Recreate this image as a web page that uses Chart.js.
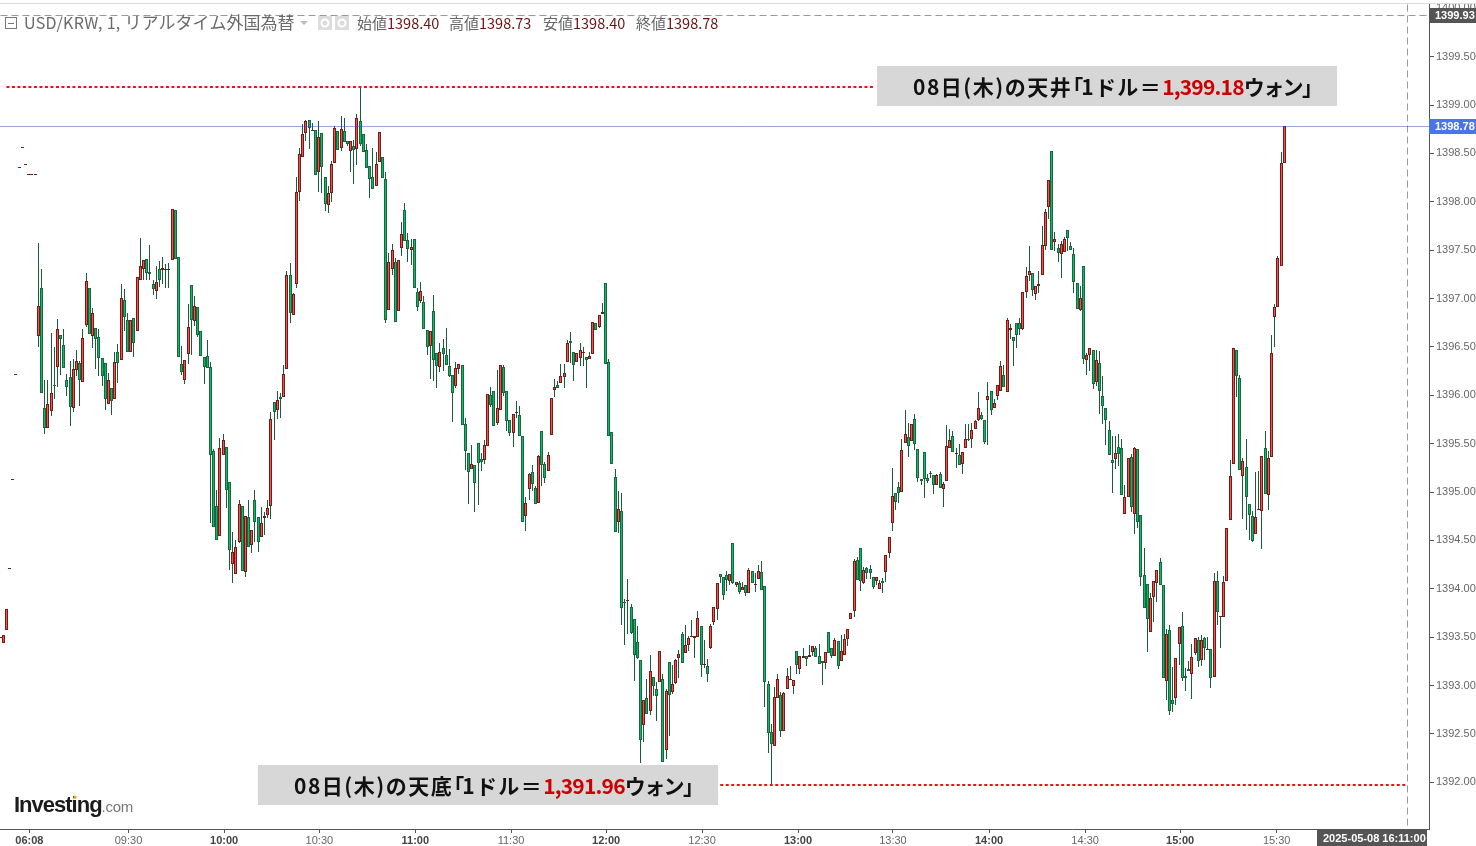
<!DOCTYPE html>
<html>
<head>
<meta charset="utf-8">
<title>USD/KRW</title>
<script src="https://cdn.jsdelivr.net/npm/chart.js@4"></script>
<style>
  html, body { margin: 0; padding: 0; background: #fff; overflow: hidden; }
  canvas { display: block; }
</style>
</head>
<body>
<canvas id="chart" width="1476" height="846"></canvas>
<script>
// ================================
// DATA (1 minute candles)
// ================================
const opens = [
  1393.50,1393.44,1393.57,1394.21,1395.13,1396.22,1398.36,1398.57,1398.39,1398.29,
  1398.29,1398.29,1396.61,1397.11,1395.87,1395.66,1395.84,1396.11,1396.29,1396.62,
  1396.52,1396.16,1396.19,1395.87,1396.26,1396.33,1396.14,1396.73,1397.11,1396.61,
  1396.70,1396.60,1396.38,1396.33,1395.91,1396.07,1395.96,1396.45,1396.36,1396.98,
  1396.78,1396.45,1396.80,1396.66,1397.19,1397.30,1397.41,1397.27,1397.15,1397.08,
  1397.30,1397.29,1397.29,1397.30,1397.40,1397.91,1397.43,1396.32,1396.16,1396.43,
  1397.14,1396.77,1396.91,1396.66,1396.40,1396.41,1396.29,1395.42,1394.86,1394.55,
  1395.38,1395.47,1395.10,1394.26,1394.15,1394.48,1394.86,1394.17,1394.74,1394.45,
  1394.92,1394.74,1394.54,1394.73,1394.76,1394.86,1395.93,1395.85,1395.98,1395.98,
  1396.27,1397.24,1396.83,1397.15,1398.10,1398.46,1398.71,1398.84,1398.73,1398.74,
  1398.31,1398.71,1398.26,1397.97,1398.09,1398.40,1398.73,1398.56,1398.73,1398.63,
  1398.52,1398.58,1398.55,1398.83,1398.70,1398.54,1398.37,1398.26,1398.16,1398.41,
  1398.46,1398.24,1396.88,1397.30,1397.38,1396.87,1397.52,1397.91,1397.60,1397.50,
  1397.61,1397.07,1396.97,1396.96,1396.67,1396.51,1396.87,1396.44,1396.29,1396.49,
  1396.42,1396.30,1396.21,1396.10,1396.27,1396.31,1395.70,1395.40,1395.24,1395.28,
  1395.51,1395.34,1395.33,1395.48,1396.00,1396.04,1395.71,1395.85,1396.29,1396.04,
  1395.74,1395.61,1395.82,1395.80,1395.58,1394.75,1395.03,1395.21,1395.04,1394.89,
  1395.63,1395.29,1395.22,1395.59,1396.05,1396.11,1396.13,1396.19,1396.34,1396.56,
  1396.45,1396.34,1396.38,1396.44,1396.40,1396.37,1396.43,1396.75,1396.71,1396.84,
  1397.16,1396.34,1395.62,1395.16,1394.69,1394.80,1393.86,1393.88,1393.81,1393.69,
  1393.45,1393.26,1392.59,1392.87,1392.74,1393.09,1392.96,1393.04,1393.07,1392.33,
  1393.24,1392.93,1393.03,1393.28,1393.53,1393.34,1393.42,1393.50,1393.49,1393.50,
  1393.62,1393.22,1393.20,1393.39,1393.66,1393.79,1394.15,1394.12,1394.14,1394.08,
  1394.47,1394.04,1394.06,1393.99,1394.04,1393.96,1394.18,1394.05,1394.10,1394.17,
  1394.03,1393.02,1392.52,1392.38,1392.87,1392.90,1392.53,1392.96,1393.07,1393.00,
  1393.36,1393.17,1393.28,1393.30,1393.29,1393.35,1393.39,1393.30,1393.25,1393.23,
  1393.55,1393.39,1393.30,1393.46,1393.25,1393.32,1393.48,1393.69,1393.77,1394.30,
  1394.42,1394.06,1394.21,1394.20,1394.12,1394.08,1394.00,1394.08,1394.17,1394.37,
  1394.68,1394.99,1395.05,1395.00,1395.51,1395.57,1395.53,1395.75,1395.44,1395.13,
  1395.41,1395.14,1395.20,1395.18,1395.07,1395.19,1395.03,1395.11,1395.46,1395.58,
  1395.40,1395.38,1395.29,1395.45,1395.55,1395.55,1395.65,1395.74,1395.80,1395.74,
  1395.95,1396.04,1395.87,1395.99,1396.04,1396.21,1396.03,1396.67,1396.60,1396.75,
  1396.75,1396.68,1397.07,1397.24,1397.26,1397.05,1397.13,1397.24,1397.54,1397.95,
  1398.52,1397.58,1397.52,1397.46,1397.48,1397.71,1397.54,1397.46,1397.16,1396.88,
  1397.34,1396.36,1396.42,1396.47,1396.14,1396.33,1395.99,1395.87,1395.64,1395.33,
  1395.34,1395.47,1395.46,1394.77,1394.95,1395.36,1394.77,1395.44,1394.76,1394.14,
  1394.05,1393.55,1393.91,1394.06,1394.28,1394.04,1393.05,1393.57,1392.85,1392.87,
  1393.43,1393.62,1393.10,1393.17,1393.12,1393.34,1393.47,1393.26,1393.49,1393.38,
  1393.38,1393.09,1394.08,1393.71,1393.71,1394.08,1394.71,1395.29,1396.47,1396.18,
  1395.17,1395.26,1394.88,1394.75,1394.57,1394.81,1394.80,1395.46,1394.97,1395.36,
  1396.81,1396.91,1397.34,1398.40
];
const highs = [
  1393.50,1393.52,1393.79,1394.21,1395.13,1396.22,1398.36,1398.57,1398.39,1398.29,
  1398.29,1398.29,1397.57,1397.31,1396.16,1396.16,1396.64,1396.50,1396.79,1396.62,
  1396.69,1396.22,1396.35,1396.37,1396.47,1396.35,1396.68,1397.26,1397.11,1396.90,
  1396.70,1396.68,1396.38,1396.33,1396.23,1396.07,1396.45,1396.53,1397.15,1397.10,
  1396.85,1396.78,1396.80,1397.22,1397.63,1397.40,1397.41,1397.55,1397.19,1397.34,
  1397.39,1397.43,1397.36,1397.37,1397.93,1397.91,1397.43,1396.51,1396.36,1396.94,
  1397.14,1397.03,1396.91,1396.66,1396.40,1396.57,1396.34,1395.44,1395.02,1395.56,
  1395.60,1395.47,1395.10,1394.59,1394.50,1394.92,1394.86,1394.75,1394.92,1394.61,
  1395.02,1394.74,1394.84,1394.79,1394.92,1395.83,1395.93,1396.04,1396.02,1396.31,
  1397.28,1397.37,1397.06,1398.26,1398.56,1398.80,1398.85,1398.85,1398.81,1398.74,
  1398.83,1398.71,1398.26,1398.16,1398.42,1398.78,1398.73,1398.89,1398.87,1398.63,
  1398.63,1398.64,1398.91,1399.20,1398.70,1398.60,1398.37,1398.56,1398.51,1398.72,
  1398.46,1398.31,1397.47,1397.56,1397.42,1397.40,1397.79,1397.99,1397.68,1397.62,
  1397.61,1397.11,1397.17,1397.03,1396.67,1396.66,1397.04,1396.44,1396.54,1396.58,
  1396.70,1396.48,1396.21,1396.34,1396.32,1396.31,1395.77,1395.40,1395.49,1395.28,
  1395.51,1395.40,1395.54,1396.01,1396.09,1396.04,1396.26,1396.31,1396.31,1396.04,
  1395.74,1395.81,1395.94,1395.89,1395.58,1394.95,1395.20,1395.28,1395.06,1395.38,
  1395.63,1395.31,1395.41,1395.97,1396.17,1396.15,1396.32,1396.32,1396.57,1396.65,
  1396.45,1396.44,1396.54,1396.50,1396.40,1396.45,1396.76,1396.75,1396.83,1396.95,
  1397.16,1396.37,1395.62,1395.24,1395.01,1394.99,1393.89,1394.10,1393.84,1393.69,
  1393.62,1393.26,1392.85,1393.07,1393.32,1393.09,1393.04,1393.36,1393.12,1392.96,
  1393.24,1393.21,1393.27,1393.37,1393.55,1393.63,1393.51,1393.68,1393.51,1393.77,
  1393.62,1393.47,1393.27,1393.64,1393.81,1394.06,1394.15,1394.12,1394.18,1394.15,
  1394.47,1394.07,1394.08,1394.07,1394.04,1394.21,1394.18,1394.16,1394.25,1394.29,
  1394.03,1393.05,1392.60,1392.98,1393.12,1392.93,1392.93,1393.18,1393.20,1393.06,
  1393.36,1393.30,1393.39,1393.30,1393.42,1393.41,1393.41,1393.43,1393.25,1393.35,
  1393.55,1393.39,1393.49,1393.46,1393.52,1393.53,1393.58,1393.75,1394.31,1394.33,
  1394.42,1394.23,1394.23,1394.25,1394.12,1394.12,1394.09,1394.11,1394.35,1394.54,
  1395.25,1394.99,1395.10,1395.55,1395.85,1395.71,1395.70,1395.81,1395.44,1395.13,
  1395.41,1395.19,1395.22,1395.18,1395.19,1395.21,1395.10,1395.69,1395.65,1395.63,
  1395.45,1395.50,1395.41,1395.70,1395.70,1395.71,1395.74,1396.03,1395.83,1395.74,
  1396.14,1396.04,1395.96,1396.11,1396.35,1396.31,1396.80,1396.74,1396.60,1396.75,
  1396.80,1397.07,1397.33,1397.54,1397.26,1397.13,1397.28,1397.75,1397.93,1398.23,
  1398.52,1397.69,1397.56,1397.59,1397.64,1397.71,1397.58,1397.52,1397.16,1397.13,
  1397.34,1396.44,1396.49,1396.47,1396.47,1396.46,1396.20,1395.87,1395.73,1395.58,
  1395.58,1395.60,1395.55,1395.07,1395.35,1395.39,1395.47,1395.44,1394.76,1394.42,
  1394.05,1393.96,1394.08,1394.19,1394.32,1394.04,1393.58,1393.63,1393.19,1393.28,
  1393.60,1393.76,1393.18,1393.25,1393.43,1393.49,1393.50,1393.52,1393.50,1393.50,
  1393.38,1394.16,1394.18,1393.72,1394.13,1394.63,1395.33,1396.49,1396.47,1396.21,
  1395.35,1395.55,1394.88,1394.80,1395.21,1395.22,1395.37,1395.63,1395.42,1396.62,
  1396.94,1397.44,1398.51,1398.78
];
const lows = [
  1393.50,1393.44,1393.57,1394.21,1395.13,1396.22,1398.36,1398.57,1398.39,1398.29,
  1398.29,1398.29,1396.50,1396.02,1395.60,1395.66,1395.79,1395.96,1396.09,1396.21,
  1396.28,1395.99,1395.68,1395.83,1396.20,1395.89,1396.14,1396.71,1396.63,1396.49,
  1396.27,1396.20,1396.10,1395.85,1395.91,1395.80,1395.96,1396.13,1396.36,1396.66,
  1396.45,1396.45,1396.40,1396.66,1397.19,1397.19,1397.19,1397.19,1397.04,1397.00,
  1397.12,1397.15,1397.11,1397.11,1397.40,1397.41,1396.40,1396.21,1396.12,1396.32,
  1396.42,1396.72,1396.60,1396.41,1396.12,1396.28,1394.68,1394.64,1394.50,1394.55,
  1395.38,1394.83,1394.19,1394.06,1394.15,1394.47,1394.18,1394.12,1394.43,1394.37,
  1394.48,1394.38,1394.54,1394.56,1394.73,1394.72,1395.54,1395.75,1395.77,1395.98,
  1396.27,1396.75,1396.83,1397.11,1398.01,1398.46,1398.63,1398.55,1398.73,1398.28,
  1398.10,1398.09,1397.90,1397.88,1398.00,1398.40,1398.53,1398.52,1398.62,1398.58,
  1398.31,1398.18,1398.38,1398.58,1398.51,1398.35,1398.04,1398.13,1398.16,1398.41,
  1398.25,1396.75,1396.88,1397.24,1396.76,1396.87,1397.44,1397.59,1397.38,1397.35,
  1397.11,1396.87,1396.95,1396.69,1396.42,1396.17,1396.15,1396.08,1396.24,1396.25,
  1396.31,1396.19,1395.72,1396.07,1396.22,1395.69,1395.23,1394.88,1395.24,1394.79,
  1394.87,1395.22,1395.29,1395.48,1395.88,1395.68,1395.69,1395.85,1395.99,1395.63,
  1395.58,1395.47,1395.77,1395.58,1394.69,1394.60,1394.92,1395.01,1394.88,1394.89,
  1395.06,1395.09,1395.22,1395.59,1395.98,1396.07,1396.13,1396.07,1396.34,1396.33,
  1396.15,1396.34,1396.30,1396.30,1396.08,1396.37,1396.43,1396.67,1396.70,1396.84,
  1396.32,1395.58,1395.29,1394.59,1394.58,1393.63,1393.42,1393.53,1393.53,1393.05,
  1393.27,1392.20,1392.42,1392.71,1392.70,1392.89,1392.63,1393.04,1392.21,1392.24,
  1392.48,1392.91,1393.02,1393.08,1393.23,1393.34,1393.36,1393.50,1393.28,1393.50,
  1393.09,1393.18,1393.04,1393.38,1393.63,1393.68,1394.06,1393.88,1393.98,1394.04,
  1394.05,1394.02,1393.95,1393.99,1393.93,1393.96,1394.06,1393.97,1394.10,1393.99,
  1392.78,1392.30,1391.97,1392.37,1392.87,1392.47,1392.53,1392.96,1393.07,1392.91,
  1393.12,1393.12,1393.28,1393.20,1393.29,1393.31,1393.29,1393.22,1393.01,1393.17,
  1393.34,1393.28,1393.30,1393.17,1393.25,1393.32,1393.41,1393.69,1393.71,1394.09,
  1393.98,1394.05,1394.10,1394.10,1394.00,1394.04,1394.00,1393.96,1394.07,1394.32,
  1394.60,1394.81,1394.89,1395.00,1395.51,1395.36,1395.53,1395.43,1395.10,1395.07,
  1394.94,1395.09,1395.14,1394.98,1395.07,1395.04,1394.85,1395.11,1395.46,1395.41,
  1395.25,1395.28,1395.19,1395.45,1395.53,1395.46,1395.65,1395.73,1395.74,1395.50,
  1395.49,1395.80,1395.87,1395.95,1396.04,1396.09,1396.03,1396.58,1396.30,1396.49,
  1396.62,1396.67,1397.01,1397.18,1397.03,1396.98,1397.06,1397.24,1397.50,1397.82,
  1397.50,1397.49,1397.38,1397.21,1397.48,1397.49,1397.50,1397.06,1396.89,1396.87,
  1396.32,1396.21,1396.25,1396.06,1396.10,1395.81,1395.70,1395.49,1395.38,1394.99,
  1395.24,1395.27,1394.97,1394.77,1394.95,1394.79,1394.57,1394.63,1394.03,1393.80,
  1393.35,1393.55,1393.66,1393.86,1394.04,1393.08,1392.85,1392.70,1392.73,1392.80,
  1393.21,1393.05,1392.94,1393.15,1392.86,1393.32,1393.19,1393.20,1393.26,1393.38,
  1392.97,1393.09,1393.63,1393.39,1393.71,1394.08,1394.71,1395.29,1395.98,1395.23,
  1394.72,1394.61,1394.50,1394.48,1394.57,1394.81,1394.41,1394.98,1394.81,1395.36,
  1396.50,1396.91,1397.34,1398.40
];
const closes = [
  1393.50,1393.52,1393.79,1394.21,1395.13,1396.22,1398.36,1398.57,1398.39,1398.29,
  1398.29,1398.29,1396.92,1396.02,1395.66,1395.91,1396.02,1396.10,1396.69,1396.58,
  1396.28,1396.09,1395.88,1396.27,1396.35,1396.16,1396.59,1397.18,1396.63,1396.85,
  1396.58,1396.39,1396.20,1395.96,1396.16,1395.94,1396.34,1396.33,1397.01,1396.81,
  1396.45,1396.78,1396.54,1397.22,1397.34,1397.40,1397.26,1397.25,1397.10,1397.17,
  1397.19,1397.32,1397.30,1397.31,1397.93,1397.41,1396.40,1396.24,1396.36,1396.71,
  1396.78,1396.92,1396.62,1396.41,1396.29,1396.28,1395.38,1394.64,1394.50,1395.46,
  1395.54,1395.02,1394.40,1394.38,1394.43,1394.88,1394.18,1394.75,1394.43,1394.61,
  1394.69,1394.48,1394.68,1394.75,1394.83,1395.75,1395.83,1395.95,1395.96,1396.22,
  1397.24,1396.85,1397.05,1398.10,1398.49,1398.70,1398.83,1398.76,1398.74,1398.28,
  1398.67,1398.36,1397.98,1398.09,1398.39,1398.76,1398.53,1398.75,1398.62,1398.60,
  1398.63,1398.54,1398.87,1398.60,1398.51,1398.35,1398.24,1398.13,1398.39,1398.72,
  1398.25,1396.78,1397.38,1397.50,1396.76,1397.40,1397.67,1397.59,1397.51,1397.53,
  1397.11,1396.91,1397.08,1396.69,1396.50,1396.66,1396.36,1396.30,1396.45,1396.43,
  1396.31,1396.20,1396.02,1396.28,1396.32,1395.69,1395.42,1395.21,1395.29,1395.09,
  1395.30,1395.31,1395.49,1396.01,1395.90,1395.68,1395.87,1396.31,1396.02,1395.73,
  1395.61,1395.81,1395.83,1395.58,1394.69,1394.89,1395.19,1395.08,1394.88,1395.37,
  1395.28,1395.15,1395.38,1395.97,1396.09,1396.07,1396.20,1396.23,1396.54,1396.54,
  1396.31,1396.44,1396.47,1396.45,1396.36,1396.41,1396.76,1396.67,1396.83,1396.86,
  1396.32,1395.58,1395.29,1394.59,1394.82,1393.80,1393.85,1393.88,1393.54,1393.32,
  1393.28,1392.44,1392.85,1392.71,1393.15,1393.00,1392.89,1393.36,1392.21,1392.94,
  1392.90,1393.02,1393.26,1393.33,1393.23,1393.42,1393.49,1393.51,1393.51,1393.70,
  1393.21,1393.22,1393.12,1393.62,1393.81,1394.06,1394.12,1393.94,1394.09,1394.15,
  1394.06,1394.07,1393.97,1394.02,1393.96,1394.19,1394.06,1394.05,1394.18,1393.99,
  1393.04,1392.51,1392.40,1392.88,1393.07,1392.53,1392.92,1393.10,1393.07,1393.06,
  1393.21,1393.30,1393.30,1393.27,1393.32,1393.41,1393.29,1393.22,1393.23,1393.35,
  1393.34,1393.30,1393.47,1393.20,1393.36,1393.48,1393.58,1393.75,1394.29,1394.09,
  1394.08,1394.19,1394.16,1394.16,1394.02,1394.12,1394.06,1394.06,1394.35,1394.54,
  1394.96,1394.90,1394.99,1395.43,1395.60,1395.48,1395.70,1395.50,1395.15,1395.11,
  1395.13,1395.11,1395.19,1395.07,1395.18,1395.04,1395.08,1395.48,1395.54,1395.41,
  1395.40,1395.28,1395.41,1395.55,1395.54,1395.64,1395.73,1395.87,1395.75,1395.52,
  1395.99,1395.85,1395.92,1396.11,1396.30,1396.09,1396.78,1396.70,1396.56,1396.62,
  1396.69,1397.07,1397.23,1397.28,1397.09,1397.13,1397.15,1397.55,1397.89,1398.22,
  1397.50,1397.61,1397.47,1397.56,1397.62,1397.63,1397.50,1397.17,1396.89,1397.01,
  1396.37,1396.42,1396.49,1396.12,1396.36,1396.04,1395.89,1395.74,1395.38,1395.30,
  1395.40,1395.39,1394.97,1394.95,1395.35,1394.84,1395.46,1394.69,1394.12,1393.80,
  1393.69,1393.90,1394.08,1394.19,1394.04,1393.08,1393.53,1392.74,1392.81,1393.28,
  1393.60,1393.08,1393.08,1393.15,1393.29,1393.49,1393.25,1393.47,1393.39,1393.38,
  1393.08,1394.08,1393.76,1393.72,1394.07,1394.63,1395.17,1396.49,1396.20,1395.23,
  1395.32,1394.95,1394.76,1394.49,1394.74,1394.82,1395.37,1394.98,1395.35,1396.44,
  1396.91,1397.42,1398.40,1398.78
];

const xTickSlots = [9.2, 40.3, 70.3, 100.2, 130.3, 160.35, 190.2, 220.3, 250.4, 280.2, 310.35, 340.5, 370.3, 400.6];
const xTickLabels = ["06:08", "09:30", "10:00", "10:30", "11:00", "11:30", "12:00", "12:30", "13:00", "13:30", "14:00", "14:30", "15:00", "15:30"];
const yTicks = [1392, 1392.5, 1393, 1393.5, 1394, 1394.5, 1395, 1395.5, 1396, 1396.5, 1397, 1397.5, 1398, 1398.5, 1399, 1399.5, 1400];

const topPrice = 1399.19;
const bottomPrice = 1391.97;
const lastPrice = 1398.78;
const crossPrice = 1399.93;
const crossSlot = 441.6;

// ================================
// DATASETS
// ================================
const isUp = closes.map((c, i) => c >= opens[i]);
const bodies = closes.map((c, i) => ({ x: i, y: [Math.min(opens[i], c), Math.max(opens[i], c)] }));
const wicks = highs.map((h, i) => ({ x: i, y: [lows[i], h] }));

const X_MIN = -0.02, X_MAX = 448.41, Y_MIN = 1391.517, Y_MAX = 1400.044;

function refLine(points, color, width, dash) {
  return { type: "line", data: points, borderColor: color, borderWidth: width, borderDash: dash, pointRadius: 0, fill: false, order: 0 };
}

// bars and lines snap to whole pixels, the original is not antialiased
const snapPlugin = {
  id: "snap",
  afterDatasetsUpdate(chart) {
    chart.data.datasets.forEach((ds, d) => {
      const meta = chart.getDatasetMeta(d);
      meta.data.forEach(el => {
        if (ds.type === "line") {
          if (ds.borderWidth % 2) {
            el.y = Math.floor(el.y) + 0.5;
            el.x = Math.floor(el.x) + 0.5;
          } else {
            el.y = Math.round(el.y);
          }
        } else {
          el.x = Math.floor(el.x) + 0.5;
          const top = Math.round(Math.min(el.y, el.base));
          let bottom = Math.round(Math.max(el.y, el.base));
          if (bottom === top) bottom = top + 1;
          el.y = top;
          el.base = bottom;
        }
      });
    });
  }
};

// text runs, boxes, header, logo
function runs(ctx, x, y, list) {
  list.forEach(r => {
    x += r.dx || 0;
    ctx.font = r.font;
    ctx.fillStyle = r.color;
    ctx.letterSpacing = r.spacing || "0px";
    ctx.fillText(r.text, x, y);
    x += ctx.measureText(r.text).width;
  });
  ctx.letterSpacing = "0px";
  return x;
}

const JP = '"Noto Sans CJK JP"';
const AR = '"Liberation Sans"';

function labelBox(ctx, x, y, w, h, textX, day, price) {
  ctx.fillStyle = "#d7d7d7";
  ctx.fillRect(x, y, w, h);
  const f = "bold 21px " + JP;
  ctx.textBaseline = "alphabetic";
  runs(ctx, textX, y + 29, [
    { text: day, font: f, color: "#111", spacing: "1.5px" },
    { text: "「", font: f, color: "#111", dx: -10 },
    { text: "1ドル＝", font: f, color: "#111", spacing: "1.4px", dx: -2 },
    { text: price, font: f, color: "#cc0000", spacing: "-0.8px" },
    { text: "ウォン」", font: f, color: "#111", spacing: "-1.6px" }
  ]);
}

function axisTag(ctx, x, y, w, h, bg, text) {
  ctx.fillStyle = bg;
  ctx.fillRect(x, y, w, h);
  ctx.fillStyle = "#fff";
  ctx.font = "bold 11px " + AR;
  ctx.textBaseline = "middle";
  ctx.fillText(text, x + 6, y + h / 2 + 0.5);
}

const overlayPlugin = {
  id: "overlay",
  afterDraw(chart) {
    const ctx = chart.ctx;
    const y = chart.scales.y;
    ctx.save();

    // top strip
    ctx.fillStyle = "#dcdcdc";
    ctx.fillRect(0, 3, 1476, 1);

    // header
    ctx.strokeStyle = "#777";
    ctx.lineWidth = 1;
    ctx.strokeRect(5.5, 17.5, 11, 11);
    ctx.beginPath();
    ctx.moveTo(8, 23.5);
    ctx.lineTo(14, 23.5);
    ctx.stroke();

    ctx.textBaseline = "alphabetic";
    runs(ctx, 24, 29, [
      { text: "USD/KRW, 1, ", font: "16px " + JP, color: "#6a6a6a", spacing: "0.3px" },
      { text: "リアルタイム外国為替", font: "17px " + JP, color: "#6a6a6a" }
    ]);

    ctx.fillStyle = "#bbb";
    ctx.beginPath();
    ctx.moveTo(300, 21);
    ctx.lineTo(308, 21);
    ctx.lineTo(304, 25);
    ctx.fill();

    ctx.fillStyle = "#dcdcdc";
    ctx.fillRect(318, 16, 14, 14);
    ctx.fillRect(335, 16, 14, 14);
    ctx.strokeStyle = "#fff";
    ctx.lineWidth = 2;
    [325, 342].forEach(cx => {
      ctx.beginPath();
      ctx.arc(cx, 23, 3.5, 0, Math.PI * 2);
      ctx.stroke();
    });

    const ohlc = [["始値", "1398.40", 357], ["高値", "1398.73", 449], ["安値", "1398.40", 543], ["終値", "1398.78", 636]];
    ohlc.forEach(o => {
      runs(ctx, o[2], 29, [
        { text: o[0], font: "15px " + JP, color: "#666" },
        { text: o[1], font: "14.5px " + JP, color: "#6e1414" }
      ]);
    });

    // annotation boxes
    labelBox(ctx, 877, 66, 460, 40, 913, "08日(木)の天井", "1,399.18");
    labelBox(ctx, 258, 765, 460, 40, 294, "08日(木)の天底", "1,391.96");

    // logo
    ctx.textBaseline = "alphabetic";
    const endX = runs(ctx, 14, 812, [{ text: "Investing", font: "bold 22px " + AR, color: "#1c1c1c", spacing: "-1px" }]);
    runs(ctx, endX, 812, [{ text: ".com", font: "15px " + AR, color: "#777", spacing: "-0.3px" }]);
    ctx.fillStyle = "#f5a623";
    ctx.beginPath();
    ctx.arc(75, 797, 1.5, 0, Math.PI * 2);
    ctx.fill();

    // axis tags
    axisTag(ctx, 1429, Math.round(y.getPixelForValue(crossPrice)) - 7, 47, 15, "#555", crossPrice.toFixed(2));
    axisTag(ctx, 1429, Math.round(y.getPixelForValue(lastPrice)) - 7, 47, 15, "#4a74e8", lastPrice.toFixed(2));
    axisTag(ctx, 1317, 830, 110, 16, "#555", "2025-05-08 16:11:00");

    ctx.restore();
  }
};

// ================================
// CHART
// ================================
new Chart(document.getElementById("chart"), {
  type: "bar",
  data: {
    datasets: [
      refLine([{ x: 2, y: topPrice }, { x: 274.5, y: topPrice }], "#ee1111", 2, [3, 2.5]),
      refLine([{ x: 226, y: bottomPrice }, { x: crossSlot, y: bottomPrice }], "#ee1111", 2, [3, 2.5]),
      {
        data: bodies,
        backgroundColor: isUp.map(u => (u ? "#ff4f42" : "#00c063")),
        borderColor: isUp.map(u => (u ? "#6f1c1c" : "#1d6541")),
        borderWidth: 1,
        borderSkipped: false,
        inflateAmount: 0,
        barThickness: 3,
        grouped: false,
        order: 1
      },
      {
        data: wicks,
        backgroundColor: "#1a5c3a",
        borderWidth: 0,
        inflateAmount: 0,
        barThickness: 1,
        grouped: false,
        order: 2
      },
      refLine([{ x: X_MIN, y: lastPrice }, { x: X_MAX, y: lastPrice }], "#2f4fc0", 1, [1, 1]),
      refLine([{ x: X_MIN, y: crossPrice }, { x: X_MAX, y: crossPrice }], "#999", 1, [7, 4]),
      refLine([{ x: crossSlot, y: Y_MAX }, { x: crossSlot, y: Y_MIN }], "#999", 1, [7, 4])
    ]
  },
  options: {
    responsive: false,
    animation: false,
    devicePixelRatio: 1,
    events: [],
    layout: { padding: { top: 4, left: 0, right: 0, bottom: 0 } },
    plugins: { legend: { display: false }, tooltip: { enabled: false }, title: { display: false } },
    scales: {
      x: {
        type: "linear",
        offset: false,
        min: X_MIN,
        max: X_MAX,
        afterBuildTicks: s => { s.ticks = xTickSlots.map(v => ({ value: v })); },
        afterFit: s => { s.height = 17; s.paddingLeft = s.paddingRight = 0; },
        border: { color: "#555", width: 1 },
        grid: { offset: false, drawOnChartArea: false, tickLength: 4, tickColor: "#555" },
        ticks: {
          autoSkip: false,
          maxRotation: 0,
          padding: 1,
          callback: (v, i) => xTickLabels[i],
          color: c => (c.tick && String(c.tick.label).endsWith(":30") ? "#666" : "#444"),
          font: c => ({ family: AR, size: 11, weight: c.tick && String(c.tick.label).endsWith(":30") ? "normal" : "bold" })
        }
      },
      y: {
        position: "right",
        min: Y_MIN,
        max: Y_MAX,
        afterBuildTicks: s => { s.ticks = yTicks.map(v => ({ value: v })); },
        afterFit: s => { s.width = 47; s.paddingTop = s.paddingBottom = 0; },
        border: { color: "#555", width: 1 },
        grid: { drawOnChartArea: false, tickLength: 5, tickColor: "#555" },
        ticks: {
          autoSkip: false,
          padding: 2,
          callback: v => v.toFixed(2),
          color: "#666",
          font: { family: AR, size: 11 }
        }
      }
    }
  },
  plugins: [snapPlugin, overlayPlugin]
});
</script>
</body>
</html>
